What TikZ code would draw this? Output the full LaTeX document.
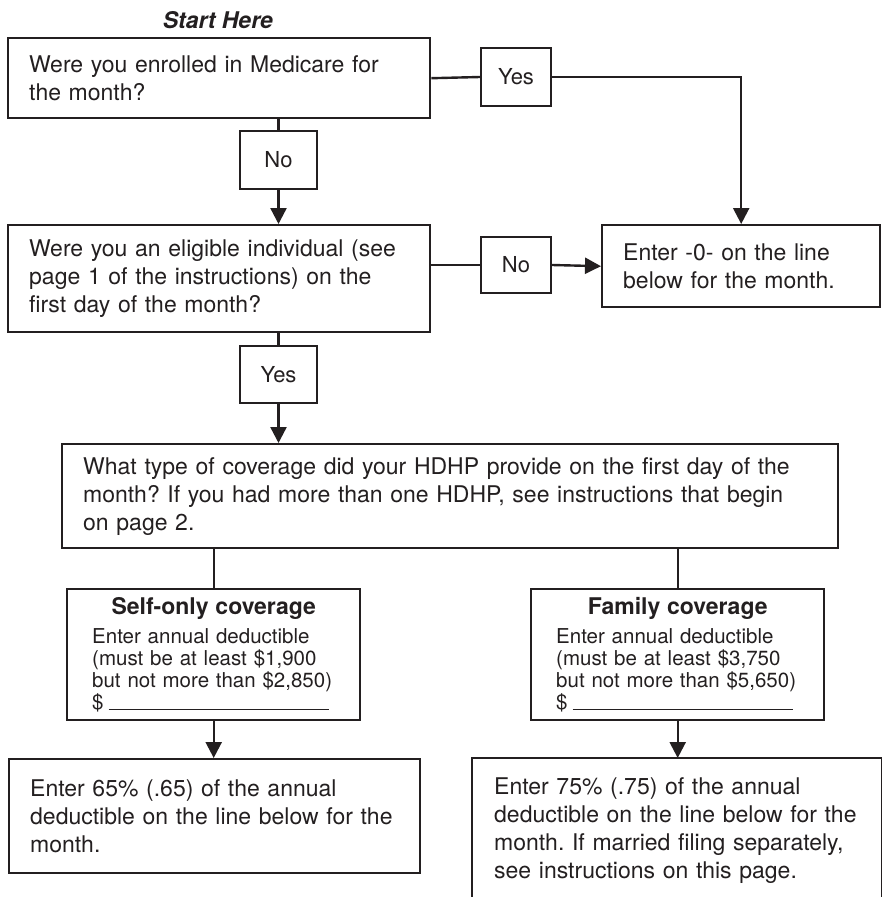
\documentclass[tikz,border=0pt]{standalone}
\usepackage{fontspec}
\setmainfont{TeX Gyre Heros}
\usetikzlibrary{arrows.meta,positioning,calc}
\definecolor{inkblack}{HTML}{231F20}
\newcommand{\mainsize}{\fontsize{23}{28}\selectfont}
\newcommand{\smallsize}{\fontsize{20.5}{22}\selectfont}
\newcommand{\lblsize}{\fontsize{22}{24}\selectfont}
\frenchspacing

\begin{document}
\begin{tikzpicture}
      [
        x=1pt, y=-1pt,
        line width=2.4pt, color=inkblack,
        qbox/.style={draw, anchor=north west, align=left, inner xsep=21pt,
          inner ysep=0pt, font=\mainsize},
        covbox/.style={draw, anchor=north west, align=left, inner xsep=25pt,
          inner ysep=0pt, font=\smallsize, text width=243pt, minimum height=131pt},
        ansbox/.style={draw, inner sep=0pt, minimum height=58pt, font=\lblsize},
        arrowstyle/.style={draw, -{Triangle[width=16pt,length=16pt]}},
        linestyle/.style={draw}
      ]
      \useasboundingbox (0,0) rectangle (881,897);

      \node (start) at (218,20) {\fontsize{23}{26}\selectfont\bfseries\itshape Start Here};

      % questions
      \node[qbox, text width=380pt, minimum height=80pt] (medicare) at (7,37)
        {Were you enrolled in Medicare for\\the month?};
      \node[qbox, text width=380pt, minimum height=107pt] (eligible) at (7,224)
        {Were you an eligible individual (see\\page 1 of the instructions) on the\\first day of the month?};
      \node[qbox, text width=236pt, minimum height=82pt] (zero) at (601,224)
        {Enter -0- on the line\\below for the month.};
      \node[qbox, text width=734pt, minimum height=104pt] (type) at (61,443)
        {What type of coverage did your HDHP provide on the first day of the\\month? If you had more than one HDHP, see instructions that begin\\on page 2.};

      % coverage
      \node[covbox] (self) at (66,588)
        {\makebox[243pt][c]{\mainsize\bfseries Self-only coverage}\\[7pt]
         Enter annual deductible\\(must be at least \$1,900\\but not more than \$2,850)\\
         \$\hspace{5pt}\rule[-1pt]{220pt}{1.4pt}};
      \node[covbox] (family) at (530,588)
        {\makebox[243pt][c]{\mainsize\bfseries Family coverage}\\[7pt]
         Enter annual deductible\\(must be at least \$3,750\\but not more than \$5,650)\\
         \$\hspace{5pt}\rule[-1pt]{220pt}{1.4pt}};

      % amounts
      \node[qbox, text width=369pt, minimum height=114pt] (selfamt) at (8,758)
        {Enter 65\% (.65) of the annual\\deductible on the line below for the\\month.};
      \node[qbox, draw=none, text width=366pt, minimum height=142pt] (famamt) at (472,758)
        {Enter 75\% (.75) of the annual\\deductible on the line below for the\\month. If married filing separately,\\see instructions on this page.};
      \draw (famamt.south west) -- (famamt.north west) -- (famamt.north east) -- (famamt.south east);

      % answers
      \node[ansbox, minimum width=70pt] (yesA) at (516,77) {Yes};
      \node[ansbox, minimum width=77pt] (noA) at (278.5,160) {No};
      \node[ansbox, minimum width=70pt, minimum height=56pt] (noB) at (516,265) {No};
      \node[ansbox, minimum width=77pt, minimum height=57pt] (yesB) at (278.5,374.5) {Yes};

      \draw[linestyle] (medicare.east) -- (yesA.west);
      \draw[arrowstyle] (yesA.east) -| (zero.north);
      \draw[linestyle] (noA.north |- medicare.south) -- (noA.north);
      \draw[arrowstyle] (noA.south) -- (noA.south |- eligible.north);

      \draw[linestyle] (eligible.east |- noB.west) -- (noB.west);
      \draw[arrowstyle] (noB.east) -- (zero.west);
      \draw[linestyle] (yesB.north |- eligible.south) -- (yesB.north);
      \draw[arrowstyle] (yesB.south) -- (yesB.south |- type.north);

      \draw[linestyle] (self.north |- type.south) -- (self.north);
      \draw[linestyle] (family.north |- type.south) -- (family.north);
      \draw[arrowstyle] (self.south) -- (self.south |- selfamt.north);
      \draw[arrowstyle] (family.south) -- (family.south |- famamt.north);

    \end{tikzpicture}
\end{document}
